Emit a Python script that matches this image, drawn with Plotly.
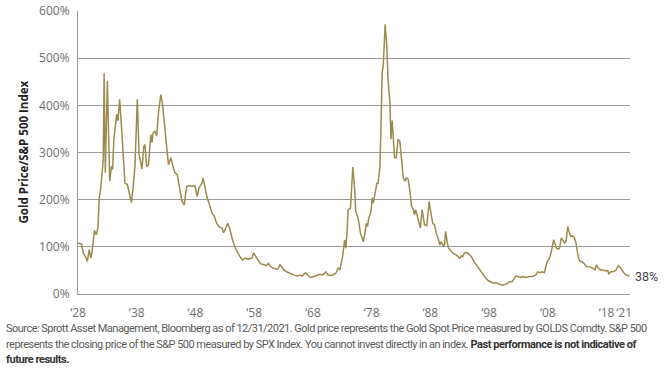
import plotly.graph_objects as go

years = [
    1928.0, 1928.6, 1928.9, 1929.3, 1929.6, 1929.9, 1930.2, 1930.4, 1930.8, 1931.1,
    1931.4, 1931.6, 1931.9, 1932.1, 1932.3, 1932.45, 1932.65, 1933.0, 1933.4, 1933.7,
    1933.9, 1934.1, 1934.6, 1934.8, 1935.1, 1935.4, 1935.7, 1936.0, 1936.4, 1936.8,
    1937.1, 1937.4, 1937.7, 1938.1, 1938.4, 1938.9, 1939.2, 1939.4, 1939.7, 1940.0,
    1940.4, 1940.6, 1940.8, 1941.1, 1941.4, 1941.7, 1942.1, 1942.4, 1942.7, 1943.1,
    1943.4, 1943.8, 1944.1, 1944.3, 1944.5, 1944.9, 1945.2, 1945.5, 1945.7, 1946.1,
    1946.5, 1946.9, 1947.5, 1947.9, 1948.3, 1948.6, 1949.1, 1949.3, 1950.0, 1950.4,
    1950.8, 1951.2, 1951.6, 1952.0, 1952.5, 1952.8, 1953.2, 1953.5, 1953.9, 1954.3,
    1954.8, 1955.2, 1955.6, 1956.0, 1956.5, 1956.9, 1957.3, 1957.6, 1957.9, 1958.3,
    1958.6, 1959.1, 1959.7, 1960.1, 1960.4, 1960.8, 1961.2, 1961.7, 1962.0, 1962.4,
    1962.7, 1963.1, 1963.7, 1964.2, 1964.8, 1965.4, 1965.8, 1966.2, 1966.7, 1967.1,
    1967.6, 1968.2, 1968.8, 1969.2, 1969.6, 1970.2, 1970.6, 1971.3, 1971.9, 1972.3,
    1972.6, 1972.8, 1973.1, 1973.4, 1973.6, 1973.8, 1974.0, 1974.4, 1974.6, 1974.8,
    1975.1, 1975.3, 1975.6, 1975.8, 1976.1, 1976.3, 1976.6, 1976.9, 1977.1, 1977.3,
    1977.5, 1977.9, 1978.1, 1978.3, 1978.6, 1978.9, 1979.1, 1979.4, 1979.6, 1979.8,
    1980.0, 1980.3, 1980.6, 1980.8, 1981.1, 1981.3, 1981.5, 1981.7, 1981.9, 1982.2,
    1982.5, 1982.8, 1983.0, 1983.2, 1983.4, 1983.7, 1983.9, 1984.2, 1984.5, 1984.8,
    1985.1, 1985.3, 1985.5, 1985.8, 1986.1, 1986.3, 1986.6, 1986.7, 1987.0, 1987.4,
    1987.6, 1987.8, 1988.0, 1988.4, 1988.7, 1989.0, 1989.4, 1989.6, 1989.8, 1990.1,
    1990.4, 1990.6, 1990.9, 1991.1, 1991.6, 1992.0, 1992.4, 1992.7, 1993.0, 1993.3,
    1993.5, 1993.8, 1994.2, 1994.5, 1995.0, 1995.4, 1996.0, 1996.5, 1997.0, 1997.5,
    1997.9, 1998.4, 1998.8, 1999.2, 1999.8, 2000.4, 2000.9, 2001.5, 2001.9, 2002.3,
    2002.6, 2002.9, 2003.3, 2003.7, 2004.3, 2004.9, 2005.4, 2005.9, 2006.3, 2006.7,
    2007.0, 2007.4, 2007.6, 2007.9, 2008.3, 2008.6, 2009.0, 2009.2, 2009.5, 2009.7,
    2010.0, 2010.3, 2010.5, 2010.9, 2011.1, 2011.4, 2011.6, 2011.9, 2012.2, 2012.5,
    2012.8, 2013.0, 2013.2, 2013.5, 2013.8, 2014.2, 2014.6, 2015.2, 2015.7, 2016.0,
    2016.3, 2016.6, 2017.0, 2017.5, 2017.9, 2018.2, 2018.4, 2018.7, 2019.1, 2019.6,
    2020.0, 2020.3, 2020.7, 2021.0, 2021.4, 2021.95,
]

ratio_pct = [
    108, 106, 87, 79, 69, 94, 76, 90, 135, 125,
    140, 200, 228, 264, 285, 468, 257, 452, 239, 271,
    264, 328, 381, 367, 413, 356, 285, 235, 232, 207,
    194, 228, 271, 413, 296, 265, 313, 317, 270, 274,
    338, 321, 342, 345, 335, 384, 423, 402, 360, 306,
    274, 289, 270, 265, 257, 253, 232, 211, 196, 189,
    228, 230, 228, 230, 207, 225, 235, 246, 204, 189,
    172, 165, 150, 143, 140, 130, 143, 150, 136, 115,
    97, 87, 79, 72, 76, 74, 76, 76, 87, 79,
    71, 64, 62, 60, 65, 58, 55, 54, 52, 62,
    57, 51, 46, 43, 40, 38, 40, 38, 45, 40,
    35, 37, 40, 42, 40, 47, 40, 40, 44, 55,
    51, 62, 83, 115, 97, 126, 179, 182, 232, 269,
    225, 175, 165, 154, 129, 120, 111, 133, 150, 143,
    161, 175, 204, 193, 211, 235, 235, 267, 360, 470,
    487, 572, 523, 452, 409, 328, 368, 331, 289, 289,
    328, 324, 296, 260, 246, 239, 246, 244, 221, 186,
    179, 168, 179, 165, 150, 140, 179, 172, 147, 145,
    165, 196, 179, 150, 147, 129, 115, 104, 111, 104,
    101, 133, 108, 97, 90, 85, 83, 79, 76, 81,
    79, 87, 88, 85, 79, 69, 58, 50, 40, 33,
    28, 26, 23, 24, 20, 19, 21, 26, 26, 33,
    38, 37, 35, 37, 35, 37, 37, 40, 47, 45,
    47, 45, 55, 69, 76, 90, 115, 108, 97, 95,
    97, 119, 115, 108, 111, 143, 133, 122, 123, 121,
    108, 94, 78, 69, 69, 64, 58, 57, 55, 51,
    62, 55, 51, 51, 49, 50, 43, 47, 47, 50,
    60, 57, 50, 44, 40, 38,
]

tick_years = [1928, 1938, 1948, 1958, 1968, 1978, 1988, 1998, 2008, 2018, 2021]
tick_labels = ["\u201828", "\u201838", "\u201848", "\u201858", "\u201868", "\u201878",
               "\u201888", "\u201898", "\u201808", "\u201818", "\u201821"]
y_ticks = [0, 100, 200, 300, 400, 500, 600]
y_labels = ["0%", "100%", "200%", "300%", "400%", "500%", "600%"]

end_label = "38%"
y_title = "Gold Price/S&P 500 Index"
FOOT_STYLE = "letter-spacing:-0.52px"
BOLD = "<b><span style='color:#333333;letter-spacing:-0.45px'>{}</span></b>"
footer_lines = [
    "<span style='%s'>Source: Sprott Asset Management, Bloomberg as of 12/31/2021. Gold price represents the Gold Spot Price measured by GOLDS Comdty. S&P 500</span>" % FOOT_STYLE,
    "<span style='%s'>represents the closing price of the S&P 500 measured by SPX Index. You cannot invest directly in an index. </span>" % FOOT_STYLE
    + BOLD.format("Past performance is not indicative of"),
    BOLD.format("future results."),
]

LINE = "#9d8a4c"
GRID = "#9a9a9a"
TICK = "#6e6e6e"

fig = go.Figure()
fig.add_trace(go.Scatter(x=years, y=ratio_pct, mode="lines",
                         line=dict(color=LINE, width=1.5), hoverinfo="skip"))

L, R, T, B = 78, 40, 11, 88
W, H = 670, 382
pw = W - L - R
ph = H - T - B

fig.update_layout(
    width=W, height=H,
    margin=dict(l=L, r=R, t=T, b=B, autoexpand=False),
    plot_bgcolor="white", paper_bgcolor="white",
    showlegend=False,
    font=dict(family="Open Sans, sans-serif", size=12, color=TICK),
    xaxis=dict(range=[1928, 2022], tickmode="array", tickvals=tick_years, ticktext=tick_labels,
               showgrid=False, zeroline=False, showline=True, linecolor=GRID, linewidth=1,
               ticks="outside", ticklen=8, tickcolor="rgba(0,0,0,0)", automargin=False,
               tickangle=0, tickfont=dict(size=12, color=TICK)),
    yaxis=dict(range=[0, 600], tickmode="array", tickvals=y_ticks, ticktext=y_labels,
               showgrid=True, gridcolor=GRID, gridwidth=1, zeroline=False, automargin=False,
               showline=True, linecolor=GRID, linewidth=1,
               ticks="outside", ticklen=5, tickcolor="rgba(0,0,0,0)",
               tickfont=dict(size=12, color=TICK)),
)

def px_to_paper_x(px):
    return (px - L) / pw

def py_to_paper_y(py):
    return (H - B - py) / ph

fig.add_annotation(x=years[-1], y=ratio_pct[-1], xref="x", yref="y", text=end_label,
                   showarrow=False, xanchor="left", yanchor="middle", xshift=3,
                   font=dict(size=12.5, color="#444444", family="Roboto, sans-serif"))

fig.add_annotation(x=px_to_paper_x(23), y=0.5, xref="paper", yref="paper", text="<b>" + y_title + "</b>",
                   textangle=-90, showarrow=False, xanchor="center", yanchor="middle",
                   font=dict(size=11.5, color="#222222", family="Open Sans, sans-serif"))

for line, ypx in zip(footer_lines, [328, 344, 360]):
    fig.add_annotation(x=px_to_paper_x(4), y=py_to_paper_y(ypx), xref="paper", yref="paper",
                       text=line, showarrow=False, xanchor="left", yanchor="middle", align="left",
                       font=dict(size=11, color="#5a5a5a", family="Roboto, sans-serif"))

fig.write_html("out.html", config={"displayModeBar": False},
               post_script="document.body.style.margin='0';")
